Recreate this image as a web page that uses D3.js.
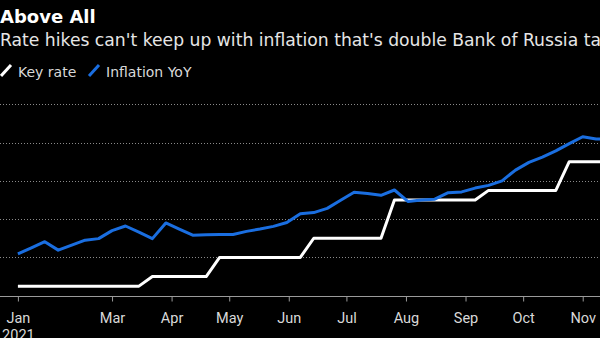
<!DOCTYPE html>
<html>
<head>
<meta charset="utf-8">
<script src="https://cdn.jsdelivr.net/npm/d3@7"></script>
<style>
  html, body { margin: 0; padding: 0; background: #000; overflow: hidden; }
  svg { display: block; }
  text { font-family: "DejaVu Sans", sans-serif; }
</style>
</head>
<body>
<div id="chart"></div>
<script>
// Weekly observations (Mondays), starting 2021-01-11
const startDate = "2021-01-11";
const weeks = 45;

// Bank of Russia key rate, %
const keyRate = [
  4.25, 4.25, 4.25, 4.25, 4.25, 4.25, 4.25, 4.25, 4.25, 4.25,
  4.5, 4.5, 4.5, 4.5, 4.5,
  5.0, 5.0, 5.0, 5.0, 5.0, 5.0, 5.0,
  5.5, 5.5, 5.5, 5.5, 5.5, 5.5,
  6.5, 6.5, 6.5, 6.5, 6.5, 6.5, 6.5,
  6.75, 6.75, 6.75, 6.75, 6.75, 6.75,
  7.5, 7.5, 7.5, 7.5
];

// Consumer inflation, year over year, %
const inflationYoY = [
  5.09, 5.25, 5.41, 5.19, 5.32, 5.45, 5.49, 5.70, 5.82, 5.66,
  5.49, 5.90, 5.74, 5.58, 5.59, 5.60, 5.60, 5.68, 5.74, 5.81,
  5.91, 6.14, 6.17, 6.28, 6.49, 6.70, 6.67, 6.62, 6.76, 6.46,
  6.50, 6.52, 6.69, 6.71, 6.81, 6.88, 7.00, 7.28, 7.48, 7.62,
  7.78, 7.97, 8.15, 8.09, 8.10
];

// Gridline levels, %
const yTicks = [4, 5, 6, 7, 8, 9];

// Month axis labels
const xTickDates = ["2021-01-11", "2021-03-01", "2021-04-01", "2021-05-01", "2021-06-01",
                    "2021-07-01", "2021-08-01", "2021-09-01", "2021-10-01", "2021-11-01"];
const xTickLabels = ["Jan", "Mar", "Apr", "May", "Jun", "Jul", "Aug", "Sep", "Oct", "Nov"];

const title = "Above All";
const subtitle = "Rate hikes can't keep up with inflation that's double Bank of Russia target";
const seriesNames = ["Key rate", "Inflation YoY"];

const W = 600, H = 338;
const parse = d3.utcParse("%Y-%m-%d");
const t0 = parse(startDate);
const dates = d3.range(weeks).map(i => d3.utcDay.offset(t0, i * 7));

const rateData = dates.map((d, i) => ({ date: d, value: keyRate[i] }));
const inflData = dates.map((d, i) => ({ date: d, value: inflationYoY[i] }));

const svg = d3.select("#chart").append("svg")
  .attr("width", W).attr("height", H);

const x = d3.scaleUtc()
  .domain([dates[0], dates[dates.length - 1]])
  .range([17.9, 609.6]);

const y = d3.scaleLinear()
  .domain([4, 9])
  .range([295.7, 104.2]);

// Title block
svg.append("text")
  .attr("x", 0).attr("y", 23)
  .attr("fill", "#fff")
  .style("font-size", "18px").style("font-weight", "700")
  .text(title);

svg.append("text")
  .attr("x", 0).attr("y", 46)
  .attr("fill", "#e6e6e6")
  .style("font-size", "17.2px")
  .text(subtitle);

// Legend
const legendColors = ["#ffffff", "#1a6ee0"];
const legendX = [0, 88];
const legend = svg.append("g");
seriesNames.forEach((name, i) => {
  const g = legend.append("g").attr("transform", `translate(${legendX[i]},0)`);
  g.append("line")
    .attr("x1", 1).attr("y1", 76).attr("x2", 11).attr("y2", 65)
    .attr("stroke", legendColors[i]).attr("stroke-width", 3);
  g.append("text")
    .attr("x", 18).attr("y", 76.5)
    .attr("fill", "#d9d9d9")
    .style("font-size", "14px")
    .text(name);
});

// Dotted gridlines
svg.append("g")
  .selectAll("line")
  .data(yTicks.filter(v => v > 4))
  .join("line")
  .attr("x1", 0).attr("x2", W)
  .attr("y1", d => Math.round(y(d)) + 0.5).attr("y2", d => Math.round(y(d)) + 0.5)
  .attr("stroke", "#8a8a8a")
  .attr("stroke-width", 1)
  .attr("stroke-dasharray", "1,2");

// Time axis
const xAxis = d3.axisBottom(x)
  .tickValues(xTickDates.map(parse))
  .tickFormat((d, i) => xTickLabels[i])
  .tickSize(5)
  .tickSizeOuter(0);

const tickFont = "Roboto, 'DejaVu Sans', sans-serif";
const axisG = svg.append("g")
  .attr("transform", `translate(0,${Math.round(y(4)) + 0.5})`)
  .call(xAxis);
axisG.select(".domain").attr("d", `M0,0H${W}`).attr("stroke", "#9a9a9a");
axisG.selectAll(".tick line").attr("stroke", "#9a9a9a");
axisG.selectAll(".tick text")
  .attr("fill", "#d9d9d9")
  .attr("dy", null).attr("y", 26.5)
  .style("font-size", "14.5px")
  .style("font-family", tickFont);
axisG.selectAll(".tick").filter((d, i) => i === 0)
  .append("text")
  .attr("fill", "#d9d9d9")
  .attr("y", 43)
  .attr("text-anchor", "middle")
  .style("font-size", "14.5px")
  .style("font-family", tickFont)
  .text("2021");

// Series lines
const line = d3.line()
  .x(d => x(d.date))
  .y(d => y(d.value));

svg.append("path")
  .datum(rateData)
  .attr("fill", "none")
  .attr("stroke", "#ffffff")
  .attr("stroke-width", 3)
  .attr("stroke-linejoin", "round")
  .attr("d", line);

svg.append("path")
  .datum(inflData)
  .attr("fill", "none")
  .attr("stroke", "#1a6ee0")
  .attr("stroke-width", 3)
  .attr("stroke-linejoin", "round")
  .attr("d", line);
</script>
</body>
</html>
